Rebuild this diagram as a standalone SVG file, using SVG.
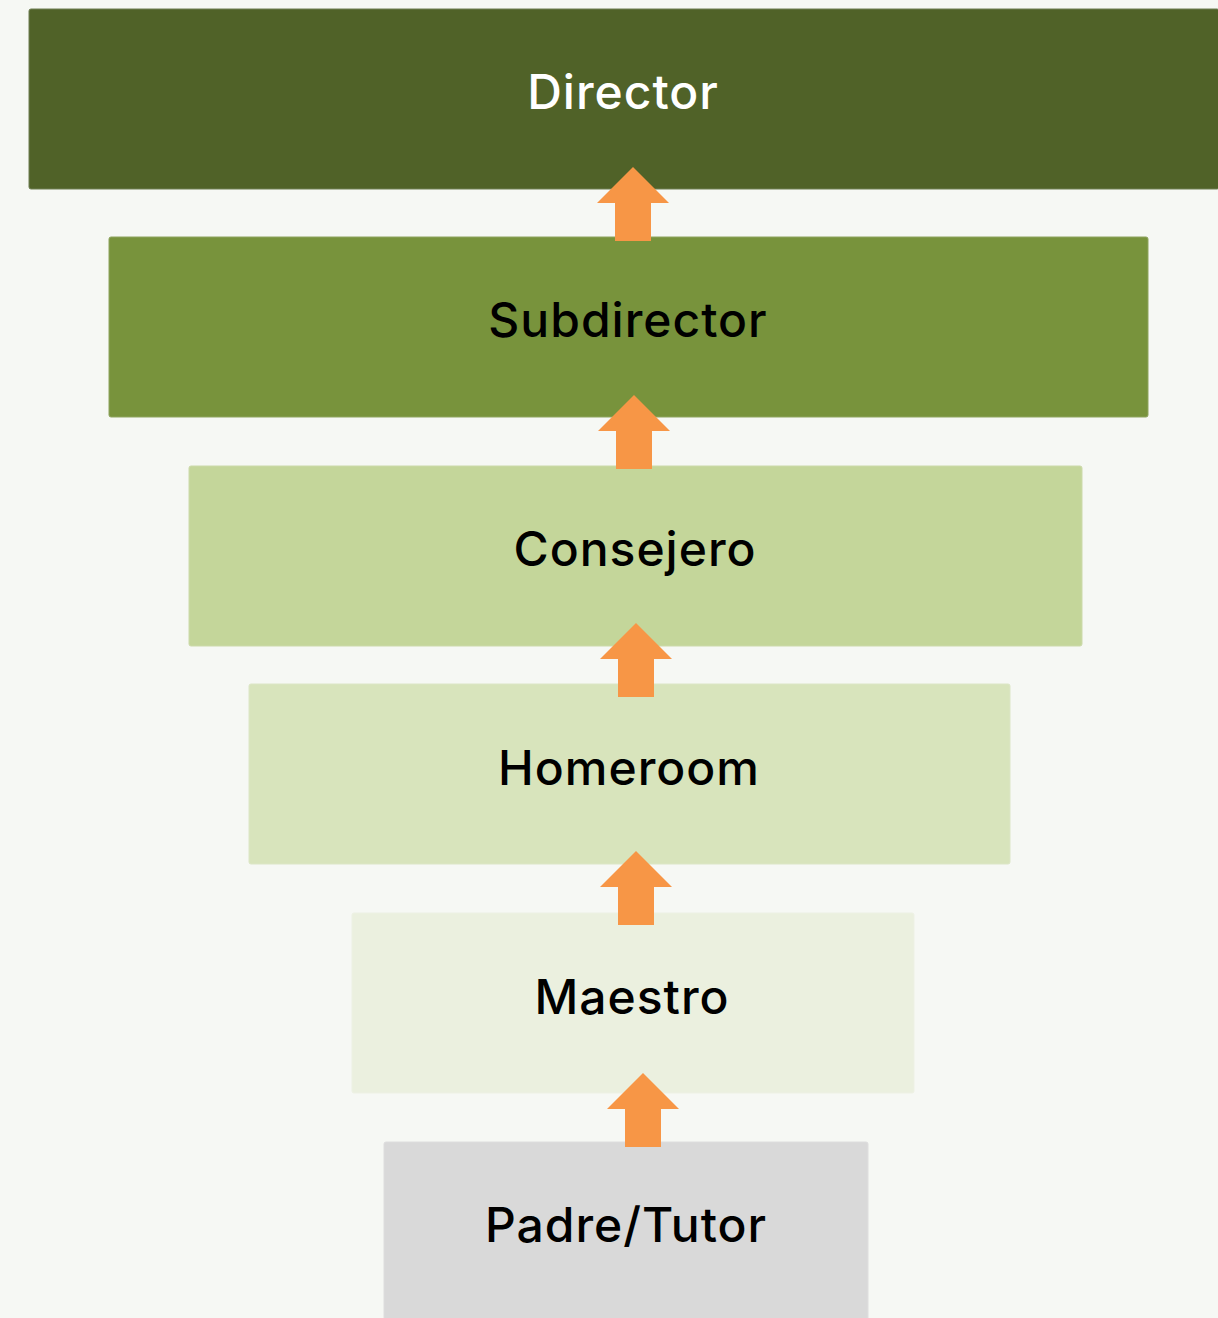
<svg xmlns="http://www.w3.org/2000/svg" width="1218" height="1318" viewBox="0 0 1218 1318">
<style>
.box{stroke-width:1}
.lbl{font-family:"Inter","Open Sans","Liberation Sans",sans-serif;font-size:48px;font-weight:500;letter-spacing:1px;text-anchor:middle;fill:#000}
.arr{fill:#F79646}
</style>
<rect x="0" y="0" width="1218" height="1318" fill="#F6F8F4"/>
<g id="director">
<rect class="box" x="29" y="9" width="1190" height="180" rx="2" fill="#506228" stroke="#6E7E52"/>
<text class="lbl" x="623" y="109" style="fill:#FFFFFF">Director</text>
</g>
<g id="subdirector">
<rect class="box" x="109" y="237" width="1039" height="180" rx="2" fill="#78933C" stroke="#8EA45E"/>
<text class="lbl" x="628" y="337">Subdirector</text>
</g>
<g id="consejero">
<rect class="box" x="189" y="466" width="893" height="180" rx="2" fill="#C4D69A" stroke="#CCDAAA"/>
<text class="lbl" x="635" y="566">Consejero</text>
</g>
<g id="homeroom">
<rect class="box" x="249" y="684" width="761" height="180" rx="2" fill="#D8E4BC" stroke="#DCE6C6"/>
<text class="lbl" x="629" y="785">Homeroom</text>
</g>
<g id="maestro">
<rect class="box" x="352" y="913" width="562" height="180" rx="2" fill="#EBF0DF" stroke="#EDF1E4"/>
<text class="lbl" x="632" y="1014">Maestro</text>
</g>
<g id="padre">
<rect class="box" x="384" y="1142" width="484" height="190" rx="2" fill="#D9D9D9" stroke="#DEDEDE"/>
<text class="lbl" x="626" y="1242">Padre/Tutor</text>
</g>
<g id="connectors">
<polygon class="arr" points="633,167 669,203 651,203 651,241 615,241 615,203 597,203"/>
<polygon class="arr" points="634,395 670,431 652,431 652,469 616,469 616,431 598,431"/>
<polygon class="arr" points="636,623 672,659 654,659 654,697 618,697 618,659 600,659"/>
<polygon class="arr" points="636,851 672,887 654,887 654,925 618,925 618,887 600,887"/>
<polygon class="arr" points="643,1073 679,1109 661,1109 661,1147 625,1147 625,1109 607,1109"/>
</g>
</svg>
